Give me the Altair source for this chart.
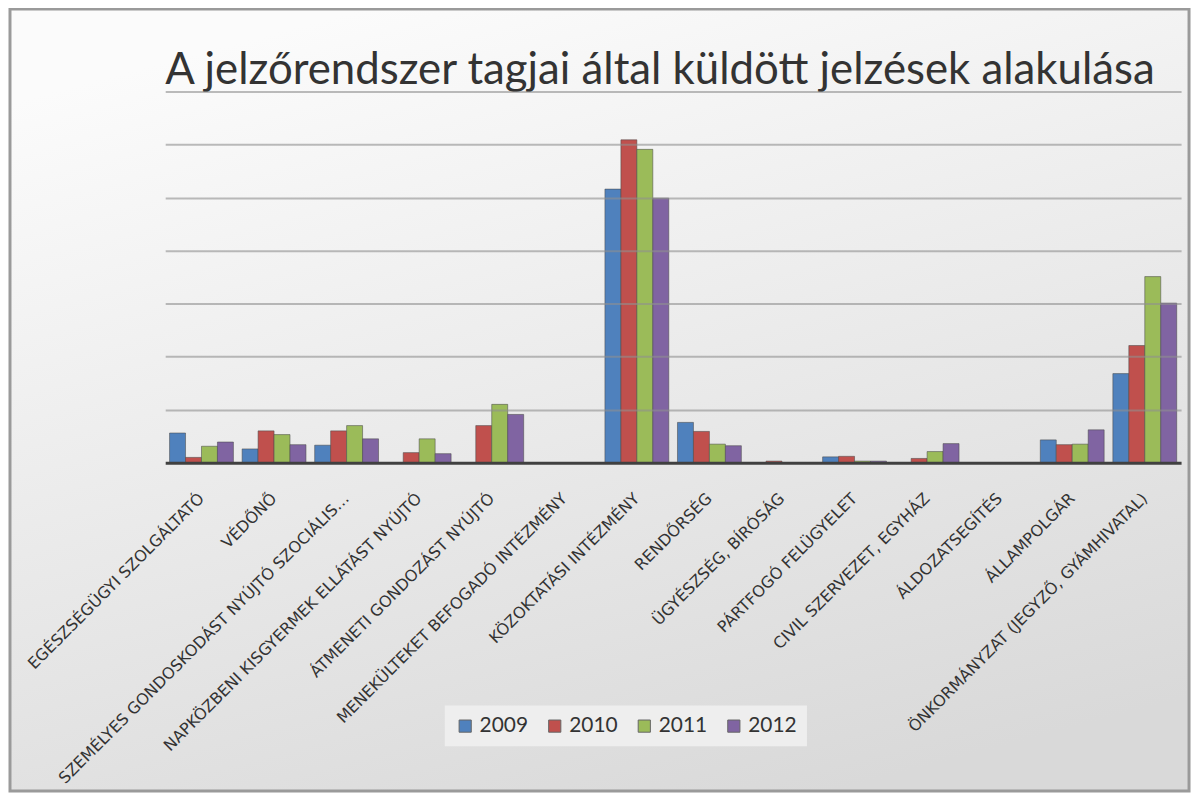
import altair as alt
import pandas as pd

categories = [
    "EGÉSZSÉGÜGYI SZOLGÁLTATÓ",
    "VÉDŐNŐ",
    "SZEMÉLYES GONDOSKODÁST NYÚJTÓ SZOCIÁLIS…",
    "NAPKÖZBENI KISGYERMEK ELLÁTÁST NYÚJTÓ",
    "ÁTMENETI GONDOZÁST NYÚJTÓ",
    "MENEKÜLTEKET BEFOGADÓ INTÉZMÉNY",
    "KÖZOKTATÁSI INTÉZMÉNY",
    "RENDŐRSÉG",
    "ÜGYÉSZSÉG, BÍRÓSÁG",
    "PÁRTFOGÓ FELÜGYELET",
    "CIVIL SZERVEZET, EGYHÁZ",
    "ÁLDOZATSEGÍTÉS",
    "ÁLLAMPOLGÁR",
    "ÖNKORMÁNYZAT (JEGYZŐ, GYÁMHIVATAL)",
]
years = ["2009", "2010", "2011", "2012"]
v2009 = [56, 26, 33, 0, 0, 0, 516, 76, 0, 11, 0, 0, 43, 168]
v2010 = [10, 60, 60, 19, 70, 0, 609, 59, 3, 12, 8, 0, 34, 221]
v2011 = [31, 53, 70, 45, 110, 0, 591, 35, 0, 3, 21, 0, 35, 351]
v2012 = [39, 34, 45, 17, 91, 0, 499, 32, 0, 3, 36, 0, 62, 301]
colors = ["#4f81bd", "#c0504d", "#9bbb59", "#8064a2"]
title_text = "A jelzőrendszer tagjai által küldött jelzések alakulása"

rows = []
for yr, vals in zip(years, [v2009, v2010, v2011, v2012]):
    for c, v in zip(categories, vals):
        if v > 0:
            rows.append({"Kategória": c, "Év": yr, "Érték": v})
df = pd.DataFrame(rows)

W, H = 1021, 373
FONT = "Lato"
LABEL_FONT = "DejaVu Sans"

one = pd.DataFrame({"a": [0]})

frame = alt.Chart(one).mark_rect(
    stroke="#9a9a9a", strokeWidth=3,
    color=alt.LinearGradient(
        gradient="linear", x1=0.3, y1=0, x2=0.7, y2=1,
        stops=[alt.GradientStop(offset=0, color="#fbfbfb"),
               alt.GradientStop(offset=1, color="#d9d9d9")],
    ),
).encode(
    x=alt.value(-156), x2=alt.value(1029),
    y=alt.value(-83), y2=alt.value(703),
)

title = alt.Chart(one).mark_text(
    align="left", baseline="alphabetic", font=FONT, fontSize=44,
    fontWeight="normal", color="#333333",
).encode(x=alt.value(0), y=alt.value(-8), text=alt.value(title_text))

bars = alt.Chart(df).mark_bar(
    stroke="#4a4a4a", strokeWidth=1, strokeOpacity=0.55
).encode(
    x=alt.X("Kategória:N", sort=categories, title=None,
            scale=alt.Scale(domain=categories, paddingInner=0.12, paddingOuter=0.06),
            axis=alt.Axis(labelAngle=-45, labelAlign="right", labelBaseline="middle",
                          labelFont=LABEL_FONT, labelFontSize=16, labelColor="#333333",
                          labelPadding=33, labelLimit=500, ticks=False, zindex=1,
                          domainColor="#404040", domainWidth=3, grid=False)),
    xOffset=alt.XOffset("Év:N", sort=years, scale=alt.Scale(domain=years)),
    y=alt.Y("Érték:Q", title=None, scale=alt.Scale(domain=[0, 700]),
            axis=alt.Axis(labels=False, ticks=False, domain=False, zindex=1,
                          values=[100, 200, 300, 400, 500, 600, 700],
                          gridColor="#909090", gridOpacity=0.6, gridWidth=2)),
    color=alt.Color("Év:N", sort=years,
                    scale=alt.Scale(domain=years, range=colors),
                    legend=alt.Legend(title=None, orient="none", direction="horizontal",
                                      legendX=281, legendY=617, zindex=1,
                                      symbolType="square", symbolSize=150,
                                      symbolStrokeColor="#666666", symbolStrokeWidth=1,
                                      labelFont=FONT, labelFontSize=21, labelColor="#333333",
                                      columnPadding=16, padding=10,
                                      fillColor="#eeeeee")),
)

chart = alt.layer(frame, bars, title).properties(
    width=W, height=H,
    padding={"left": 158, "top": 82, "right": 14, "bottom": 333},
    autosize=alt.AutoSizeParams(type="none"),
).configure_view(stroke=None).configure(background="#ffffff")

chart.save("out.html", embed_options={"renderer": "svg", "actions": False})
